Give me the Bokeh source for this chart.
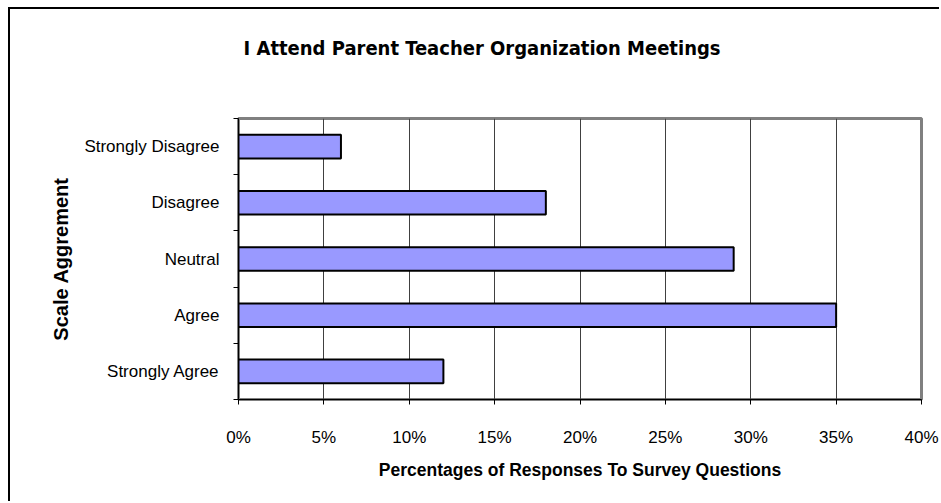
from bokeh.plotting import figure
from bokeh.models import ColumnDataSource, FixedTicker, NumeralTickFormatter, Range1d, Title
from bokeh.embed import file_html
from bokeh.resources import INLINE

categories = ["Strongly Agree", "Agree", "Neutral", "Disagree", "Strongly Disagree"]
values = [12, 35, 29, 18, 6]
x_ticks = [0, 5, 10, 15, 20, 25, 30, 35, 40]
title_text = "I Attend Parent Teacher Organization Meetings"

positions = [i + 0.5 for i in range(len(categories))]
src = ColumnDataSource(dict(y=positions, right=[v / 100 for v in values], cat=categories))

p = figure(width=931, height=494, output_backend="svg", toolbar_location=None,
           x_range=Range1d(0, 0.40), y_range=Range1d(0, len(categories)),
           min_border_left=228, min_border_right=20, min_border_bottom=104, min_border_top=109)

p.hbar(y="y", left=0, right="right", height=0.42, source=src,
       fill_color="#9999FF", line_color="black", line_width=2)

p.outline_line_color = "#808080"
p.outline_line_width = 3
p.background_fill_color = "white"
p.border_fill_color = "white"
p.styles = {"border-left": "2px solid black", "border-top": "2px solid black",
            "margin-left": "8px", "margin-top": "7px"}

# x axis
p.xaxis.ticker = FixedTicker(ticks=[t / 100 for t in x_ticks])
p.xaxis.formatter = NumeralTickFormatter(format="0%")
p.xaxis.major_tick_out = 5
p.xaxis.major_tick_in = 0
p.xaxis.minor_tick_out = 0
p.xaxis.axis_line_color = "black"
p.xaxis.major_label_standoff = 23
p.xaxis.major_label_text_font = "Liberation Sans"
p.xaxis.major_label_text_font_size = "17px"
p.xaxis.major_label_text_color = "black"
p.xaxis.axis_label = "Percentages of Responses To Survey Questions"
p.xaxis.axis_label_text_font = "Liberation Sans"
p.xaxis.axis_label_text_font_style = "bold"
p.xaxis.axis_label_text_font_size = "17.5px"
p.xaxis.axis_label_text_color = "black"
p.xaxis.axis_label_standoff = 10

# y axis
p.yaxis.ticker = FixedTicker(ticks=positions, minor_ticks=list(range(len(categories) + 1)))
p.yaxis.major_label_overrides = {pos: c for pos, c in zip(positions, categories)}
p.yaxis.major_tick_out = 0
p.yaxis.major_tick_in = 0
p.yaxis.minor_tick_out = 5
p.yaxis.minor_tick_in = 0
p.yaxis.axis_line_color = "black"
p.yaxis.major_label_standoff = 14
p.yaxis.major_label_text_font = "Liberation Sans"
p.yaxis.major_label_text_font_size = "17px"
p.yaxis.major_label_text_color = "black"
p.yaxis.axis_label = "Scale Aggrement"
p.yaxis.axis_label_text_font = "Liberation Sans"
p.yaxis.axis_label_text_font_style = "bold"
p.yaxis.axis_label_text_font_size = "20px"
p.yaxis.axis_label_text_color = "black"
p.yaxis.axis_label_standoff = 9

p.xgrid.ticker = FixedTicker(ticks=[t / 100 for t in x_ticks])
p.xgrid.grid_line_color = "#404040"
p.xgrid.grid_line_width = 1
p.ygrid.grid_line_color = None

# spacer nearest the frame, then the title above it
p.add_layout(Title(text=" ", text_font_size="1px", standoff=32), "above")
p.add_layout(Title(text=title_text, align="left", offset=5,
                   text_font="DejaVu Sans Condensed", text_font_style="bold", text_font_size="20px",
                   text_color="black", standoff=48), "above")

open("out.html", "w").write(file_html(p, INLINE))
